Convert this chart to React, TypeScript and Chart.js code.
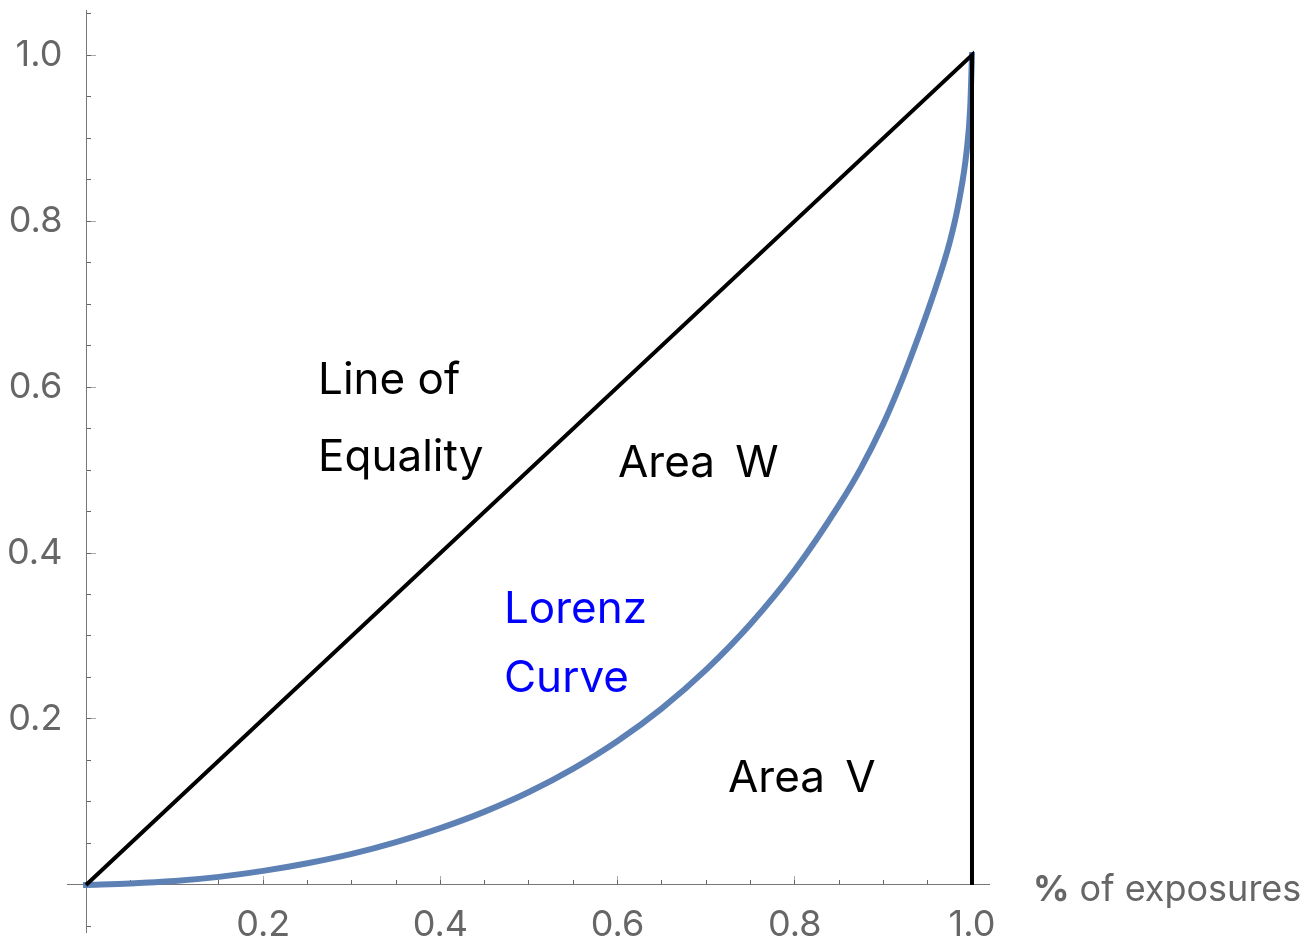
import React, { useEffect, useRef } from 'react';
import { Chart, registerables } from 'chart.js';

Chart.register(...registerables);

// Lorenz curve
const lorenzX = [0, 0.05, 0.1, 0.15, 0.2, 0.25, 0.3, 0.35, 0.4, 0.45, 0.5, 0.55, 0.6, 0.65, 0.7, 0.75, 0.8, 0.85, 0.875, 0.9, 0.915, 0.93, 0.955, 0.975, 0.986, 0.994, 0.998, 1.0];
const lorenzY = [0, 0.0018, 0.0048, 0.0098, 0.017, 0.0262, 0.0375, 0.0517, 0.0685, 0.0884, 0.112, 0.1402, 0.1735, 0.2129, 0.2595, 0.3145, 0.3795, 0.4579, 0.5029, 0.5559, 0.5927, 0.6332, 0.7069, 0.7749, 0.8277, 0.8845, 0.9365, 1.0];

// Line of equality, then the vertical side at x = 1
const equalityX = [0, 1, 1];
const equalityY = [0, 1, 0];

// Axis ranges and tick steps
const xRange = [-0.021, 1.02];
const yRange = [-0.057, 1.054];
const majorStep = 0.2;
const minorStep = 0.05;

// Annotation texts
const annotationTexts = ['Line of', 'Equality', 'Area\u2009 W', 'Lorenz', 'Curve', 'Area\u2009 V'];
const axisTitleBold = '%';
const axisTitleRest = ' of exposures';

const FONT = 'Inter';

const tickLabel = (v: any) => {
  const n = Number(v);
  if (Math.abs(n) < 1e-9) return '';
  return n.toFixed(1);
};

export default function App() {
  const ref = useRef<HTMLCanvasElement | null>(null);

  useEffect(() => {
    const canvas = ref.current;
    if (!canvas) return;

    const lorenz = lorenzX.map((x, i) => ({ x, y: lorenzY[i] }));
    const equality = equalityX.map((x, i) => ({ x, y: equalityY[i] }));

    const annotationPlacement = [
      { x: 0.263, y: 0.5916, color: '#000000' },
      { x: 0.263, y: 0.4994, color: '#000000' },
      { x: 0.6016, y: 0.4916, color: '#000000' },
      { x: 0.4729, y: 0.316, color: '#0000ff' },
      { x: 0.4729, y: 0.2329, color: '#0000ff' },
      { x: 0.7257, y: 0.1124, color: '#000000' },
    ];

    const textPlugin = {
      id: 'lorenzText',
      afterDatasetsDraw(chart: any) {
        const { ctx, scales } = chart;
        const xs = scales.x;
        const ys = scales.y;
        ctx.save();
        ctx.textAlign = 'left';
        ctx.textBaseline = 'alphabetic';
        annotationTexts.forEach((t, i) => {
          const p = annotationPlacement[i];
          ctx.font = `400 44px ${FONT}`;
          ctx.fillStyle = p.color;
          ctx.fillText(t, xs.getPixelForValue(p.x) - 1, ys.getPixelForValue(p.y));
        });
        const tx = xs.getPixelForValue(1.0688);
        const ty = ys.getPixelForValue(-0.0193);
        ctx.fillStyle = '#666666';
        ctx.font = `700 36px ${FONT}`;
        ctx.fillText(axisTitleBold, tx, ty);
        const w = ctx.measureText(axisTitleBold).width;
        ctx.font = `400 36px ${FONT}`;
        ctx.fillText(axisTitleRest, tx + w, ty);
        ctx.restore();
      },
    };

    const tickFont = { family: FONT, size: 36 };

    const chart = new Chart(canvas, {
      type: 'scatter',
      data: {
        datasets: [
          {
            label: 'Line of Equality',
            data: equality,
            showLine: true,
            borderColor: '#000000',
            borderWidth: 4,
            borderJoinStyle: 'miter',
            pointRadius: 0,
            order: 0,
            clip: false,
          } as any,
          {
            label: 'Lorenz Curve',
            data: lorenz,
            showLine: true,
            borderColor: '#5E81B5',
            borderWidth: 6,
            borderCapStyle: 'square',
            cubicInterpolationMode: 'monotone',
            pointRadius: 0,
            order: 1,
            clip: false,
          } as any,
        ],
      },
      options: {
        animation: false,
        responsive: true,
        maintainAspectRatio: false,
        devicePixelRatio: 1,
        events: [],
        layout: { padding: { left: 0, top: 10.2, right: 326.3, bottom: 9.7 } },
        plugins: {
          legend: { display: false },
          tooltip: { enabled: false },
          title: { display: false },
        },
        scales: {
          x: {
            type: 'linear',
            axis: 'x',
            position: { y: 0 },
            min: xRange[0],
            max: xRange[1],
            ticks: {
              stepSize: majorStep,
              includeBounds: false,
              autoSkip: false,
              maxRotation: 0,
              minRotation: 0,
              padding: 28,
              color: '#666666',
              font: tickFont,
              callback: tickLabel,
            },
            grid: {
              display: true,
              drawOnChartArea: false,
              drawTicks: true,
              tickLength: -9,
              tickColor: '#aaaaaa',
              tickWidth: 1,
            },
            border: { display: true, color: '#777777', width: 1 },
            afterFit: (s: any) => {
              s.paddingLeft = 0;
              s.paddingRight = 0;
            },
          },
          xMinor: {
            type: 'linear',
            axis: 'x',
            position: { y: 0 },
            min: xRange[0],
            max: xRange[1],
            ticks: { stepSize: minorStep, includeBounds: false, autoSkip: false, display: false, maxRotation: 0 },
            grid: {
              display: true,
              drawOnChartArea: false,
              drawTicks: true,
              tickLength: -5,
              tickColor: '#666666',
              tickWidth: 1,
            },
            border: { display: false },
            afterFit: (s: any) => {
              s.paddingLeft = 0;
              s.paddingRight = 0;
            },
          },
          y: {
            type: 'linear',
            axis: 'y',
            position: 'left',
            min: yRange[0],
            max: yRange[1],
            ticks: {
              stepSize: majorStep,
              includeBounds: false,
              autoSkip: false,
              padding: 5,
              color: '#666666',
              font: tickFont,
              callback: tickLabel,
            },
            grid: { display: false, drawTicks: false },
            border: { display: false },
            afterFit: (s: any) => {
              s.width = 67.4;
              s.paddingTop = 0;
              s.paddingBottom = 0;
            },
          },
          yMajor: {
            type: 'linear',
            axis: 'y',
            position: { x: 0 },
            min: yRange[0],
            max: yRange[1],
            ticks: { stepSize: majorStep, includeBounds: false, autoSkip: false, display: false },
            grid: {
              display: true,
              drawOnChartArea: false,
              drawTicks: true,
              tickLength: -10,
              tickColor: '#aaaaaa',
              tickWidth: 1,
            },
            border: { display: true, color: '#777777', width: 1 },
            afterFit: (s: any) => {
              s.paddingTop = 0;
              s.paddingBottom = 0;
            },
          },
          yMinor: {
            type: 'linear',
            axis: 'y',
            position: { x: 0 },
            min: yRange[0],
            max: yRange[1],
            ticks: { stepSize: minorStep, includeBounds: false, autoSkip: false, display: false },
            grid: {
              display: true,
              drawOnChartArea: false,
              drawTicks: true,
              tickLength: -5,
              tickColor: '#666666',
              tickWidth: 1,
            },
            border: { display: false },
            afterFit: (s: any) => {
              s.paddingTop = 0;
              s.paddingBottom = 0;
            },
          },
        } as any,
      },
      plugins: [textPlugin],
    } as any);

    return () => chart.destroy();
  }, []);

  return (
    <div style={{ position: 'fixed', left: 0, top: 0, width: 1316, height: 942, background: '#ffffff' }}>
      <canvas ref={ref} />
    </div>
  );
}
